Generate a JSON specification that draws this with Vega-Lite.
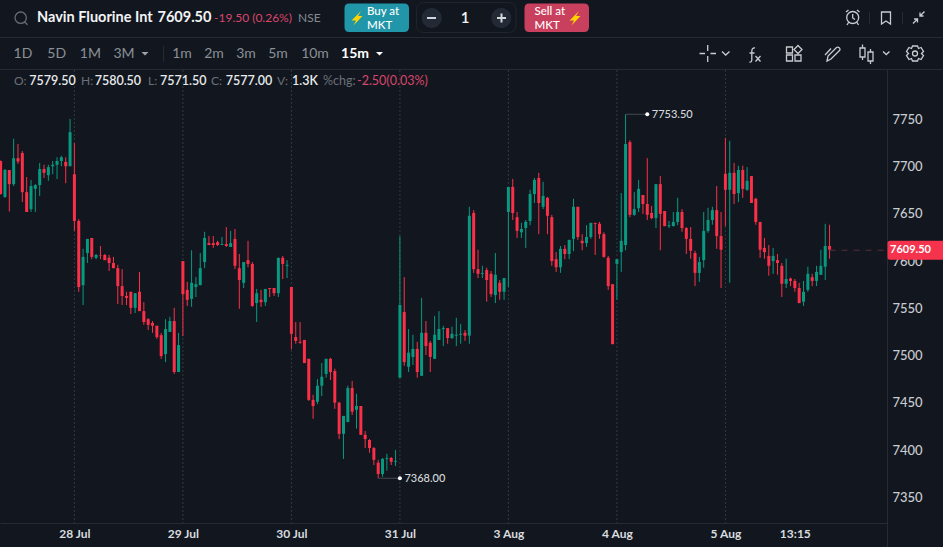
{"$schema":"https://vega.github.io/schema/vega-lite/v6.json","width":943,"height":547,"padding":0,"autosize":{"type":"none"},"background":"#12171f","config":{"view":{"stroke":null},"font":"Lato"},
"datasets":{
"days":[{"n":0},{"n":25},{"n":50},{"n":75},{"n":100},{"n":125},{"n":150}],
"extremes":[{"n":127,"n2":132,"p":7753.5,"label":"7753.50"},{"n":70,"n2":75,"p":7368,"label":"7368.00"}],
"last":[{"n":174,"edge":187.235,"p":7609.5,"label":"7609.50"}],
"candles":[
{"n":-17,"o":7704,"h":7704.5,"l":7668.5,"c":7669},{"n":-16,"o":7666,"h":7695.5,"l":7665,"c":7694.5},{"n":-15,"o":7694.5,"h":7694.5,"l":7650.5,"c":7679.5},{"n":-14,"o":7679.5,"h":7727.5,"l":7677.5,"c":7707},{"n":-13,"o":7707,"h":7722,"l":7701,"c":7703.5},{"n":-12,"o":7712.5,"h":7714.5,"l":7660.5,"c":7671},{"n":-11,"o":7671,"h":7687,"l":7650,"c":7650},{"n":-10,"o":7653,"h":7684,"l":7650,"c":7677.5},{"n":-9,"o":7674.5,"h":7679.5,"l":7650,"c":7678.5},{"n":-8,"o":7678.5,"h":7702,"l":7667,"c":7695.5},{"n":-7,"o":7695.5,"h":7700,"l":7686,"c":7691.5},{"n":-6,"o":7689,"h":7700,"l":7683,"c":7697.5},{"n":-5,"o":7698.5,"h":7704,"l":7690,"c":7700},{"n":-4,"o":7700,"h":7708,"l":7685,"c":7704},{"n":-3,"o":7704,"h":7709.5,"l":7698.5,"c":7708},{"n":-2,"o":7703,"h":7708,"l":7680.5,"c":7698.5},{"n":-1,"o":7698.5,"h":7748.5,"l":7698.5,"c":7734.5},
{"n":0,"o":7690,"h":7723,"l":7630,"c":7640.5},{"n":1,"o":7640.5,"h":7642.5,"l":7565.5,"c":7570.5},{"n":2,"o":7572.5,"h":7611,"l":7551.5,"c":7602.5},{"n":3,"o":7606.5,"h":7621.5,"l":7596,"c":7621.5},{"n":4,"o":7622.5,"h":7622.5,"l":7600,"c":7602.5},{"n":5,"o":7601.5,"h":7605.5,"l":7600,"c":7604.5},{"n":6,"o":7604.5,"h":7614,"l":7600,"c":7604},{"n":7,"o":7604.5,"h":7605.5,"l":7599,"c":7599},{"n":8,"o":7601.5,"h":7604.5,"l":7587.5,"c":7596},{"n":9,"o":7596,"h":7602.5,"l":7590.5,"c":7590.5},{"n":10,"o":7590.5,"h":7594,"l":7552.5,"c":7571.5},{"n":11,"o":7571.5,"h":7589.5,"l":7551.5,"c":7561},{"n":12,"o":7561,"h":7565.5,"l":7551.5,"c":7559},{"n":13,"o":7565.5,"h":7565.5,"l":7542,"c":7548.5},{"n":14,"o":7548.5,"h":7564,"l":7543,"c":7564},{"n":15,"o":7565.5,"h":7586.5,"l":7545,"c":7545},{"n":16,"o":7545,"h":7554.5,"l":7530.5,"c":7533.5},{"n":17,"o":7536.5,"h":7537.5,"l":7525,"c":7530.5},{"n":18,"o":7532.5,"h":7534.5,"l":7522,"c":7529.5},{"n":19,"o":7529.5,"h":7529.5,"l":7515.5,"c":7517.5},{"n":20,"o":7519.5,"h":7522,"l":7494.5,"c":7497.5},{"n":21,"o":7499.5,"h":7536.5,"l":7491,"c":7526},{"n":22,"o":7523,"h":7539,"l":7523,"c":7534.5},{"n":23,"o":7534.5,"h":7548.5,"l":7478.5,"c":7480.5},{"n":24,"o":7480.5,"h":7522,"l":7480.5,"c":7509},
{"n":25,"o":7598,"h":7598,"l":7518.5,"c":7563},{"n":26,"o":7567.5,"h":7576,"l":7550.5,"c":7557},{"n":27,"o":7558,"h":7609.5,"l":7549.5,"c":7575},{"n":28,"o":7570.5,"h":7581,"l":7560,"c":7573.5},{"n":29,"o":7572.5,"h":7606.5,"l":7572.5,"c":7590.5},{"n":30,"o":7597,"h":7629,"l":7590.5,"c":7622.5},{"n":31,"o":7617,"h":7624.5,"l":7615,"c":7615},{"n":32,"o":7617,"h":7624.5,"l":7612,"c":7615},{"n":33,"o":7618,"h":7619.5,"l":7614,"c":7615},{"n":34,"o":7615,"h":7623.5,"l":7615,"c":7616},{"n":35,"o":7616,"h":7634,"l":7613,"c":7614},{"n":36,"o":7613,"h":7630,"l":7613,"c":7617},{"n":37,"o":7621.5,"h":7632,"l":7589.5,"c":7593},{"n":38,"o":7590.5,"h":7605.5,"l":7547.5,"c":7578},{"n":39,"o":7575,"h":7597,"l":7569.5,"c":7597},{"n":40,"o":7599,"h":7619.5,"l":7591.5,"c":7595},{"n":41,"o":7595,"h":7597,"l":7549.5,"c":7550.5},{"n":42,"o":7553.5,"h":7568.5,"l":7533.5,"c":7564},{"n":43,"o":7557,"h":7567.5,"l":7549.5,"c":7554.5},{"n":44,"o":7554.5,"h":7568.5,"l":7550.5,"c":7568.5},{"n":45,"o":7569.5,"h":7569.5,"l":7560,"c":7568.5},{"n":46,"o":7569.5,"h":7569.5,"l":7561,"c":7564},{"n":47,"o":7564,"h":7601.5,"l":7560,"c":7601.5},{"n":48,"o":7601.5,"h":7603.5,"l":7579,"c":7595},{"n":49,"o":7593,"h":7599,"l":7580,"c":7594},
{"n":50,"o":7570.5,"h":7570.5,"l":7504.5,"c":7521},{"n":51,"o":7517.5,"h":7533.5,"l":7510.5,"c":7513.5},{"n":52,"o":7512.5,"h":7533.5,"l":7510.5,"c":7511.5},{"n":53,"o":7514.5,"h":7514.5,"l":7490,"c":7490},{"n":54,"o":7494.5,"h":7494.5,"l":7450,"c":7451},{"n":55,"o":7451,"h":7456.5,"l":7431,"c":7444.5},{"n":56,"o":7449,"h":7473,"l":7446.5,"c":7466},{"n":57,"o":7466,"h":7490,"l":7455,"c":7475.5},{"n":58,"o":7478.5,"h":7494.5,"l":7474.5,"c":7494.5},{"n":59,"o":7494.5,"h":7495.5,"l":7472,"c":7480.5},{"n":60,"o":7481.5,"h":7484,"l":7441.5,"c":7448},{"n":61,"o":7448,"h":7449,"l":7409.5,"c":7415},{"n":62,"o":7415,"h":7434,"l":7388.5,"c":7434},{"n":63,"o":7427.5,"h":7466,"l":7427.5,"c":7463.5},{"n":64,"o":7463.5,"h":7471,"l":7435,"c":7438.5},{"n":65,"o":7440.5,"h":7457.5,"l":7420.5,"c":7444.5},{"n":66,"o":7444.5,"h":7444.5,"l":7414,"c":7414},{"n":67,"o":7414,"h":7418,"l":7400,"c":7409.5},{"n":68,"o":7408.5,"h":7409.5,"l":7395,"c":7400},{"n":69,"o":7400,"h":7401,"l":7382,"c":7387.5},{"n":70,"o":7384.5,"h":7387.5,"l":7368,"c":7372.5},{"n":71,"o":7372.5,"h":7389.5,"l":7369.5,"c":7388.5},{"n":72,"o":7388.5,"h":7394,"l":7376,"c":7389.5},{"n":73,"o":7389.5,"h":7390.5,"l":7382,"c":7385.5},{"n":74,"o":7385.5,"h":7398,"l":7381,"c":7386.5},
{"n":75,"o":7474.5,"h":7624.5,"l":7474.5,"c":7551.5},{"n":76,"o":7544,"h":7581,"l":7487,"c":7491},{"n":77,"o":7486,"h":7526,"l":7480.5,"c":7501},{"n":78,"o":7496.5,"h":7520,"l":7488,"c":7505},{"n":79,"o":7505,"h":7512.5,"l":7474.5,"c":7480.5},{"n":80,"o":7476.5,"h":7559,"l":7476.5,"c":7522},{"n":81,"o":7522,"h":7534.5,"l":7498.5,"c":7508},{"n":82,"o":7511.5,"h":7513.5,"l":7480.5,"c":7496.5},{"n":83,"o":7494.5,"h":7540,"l":7494.5,"c":7520},{"n":84,"o":7514.5,"h":7545,"l":7514.5,"c":7526},{"n":85,"o":7526,"h":7529.5,"l":7508,"c":7527},{"n":86,"o":7527,"h":7527,"l":7510.5,"c":7516.5},{"n":87,"o":7516.5,"h":7528.5,"l":7515.5,"c":7521},{"n":88,"o":7519,"h":7538,"l":7508,"c":7520},{"n":89,"o":7520,"h":7531.5,"l":7510.5,"c":7521},{"n":90,"o":7522,"h":7525,"l":7513.5,"c":7519},{"n":91,"o":7519,"h":7655.5,"l":7510.5,"c":7646},{"n":92,"o":7649,"h":7652,"l":7585.5,"c":7589.5},{"n":93,"o":7589.5,"h":7610,"l":7580,"c":7584.5},{"n":94,"o":7584.5,"h":7593,"l":7580,"c":7585.5},{"n":95,"o":7588.5,"h":7591,"l":7555,"c":7578},{"n":96,"o":7584.5,"h":7587.5,"l":7560,"c":7563},{"n":97,"o":7562,"h":7606.5,"l":7553.5,"c":7583.5},{"n":98,"o":7575,"h":7578,"l":7557,"c":7565.5},{"n":99,"o":7565.5,"h":7580,"l":7557,"c":7580},
{"n":100,"o":7650,"h":7676.5,"l":7570.5,"c":7676.5},{"n":101,"o":7676.5,"h":7685,"l":7641.5,"c":7649},{"n":102,"o":7644.5,"h":7650,"l":7622.5,"c":7630},{"n":103,"o":7628.5,"h":7638.5,"l":7622.5,"c":7632},{"n":104,"o":7633,"h":7641.5,"l":7612,"c":7639.5},{"n":105,"o":7640.5,"h":7673.5,"l":7636,"c":7669},{"n":106,"o":7669,"h":7686,"l":7659.5,"c":7684},{"n":107,"o":7686,"h":7691.5,"l":7626.5,"c":7659.5},{"n":108,"o":7655.5,"h":7682,"l":7653,"c":7667},{"n":109,"o":7665,"h":7666,"l":7626.5,"c":7646},{"n":110,"o":7644.5,"h":7647,"l":7593,"c":7598},{"n":111,"o":7600,"h":7607.5,"l":7586.5,"c":7591.5},{"n":112,"o":7591.5,"h":7614,"l":7585.5,"c":7611},{"n":113,"o":7611,"h":7615,"l":7600,"c":7605.5},{"n":114,"o":7605.5,"h":7620.5,"l":7600,"c":7620.5},{"n":115,"o":7621.5,"h":7664,"l":7608.5,"c":7655.5},{"n":116,"o":7655.5,"h":7655.5,"l":7620.5,"c":7623.5},{"n":117,"o":7619.5,"h":7626.5,"l":7609.5,"c":7617},{"n":118,"o":7617,"h":7636,"l":7613,"c":7623.5},{"n":119,"o":7623.5,"h":7638.5,"l":7621.5,"c":7638.5},{"n":120,"o":7638.5,"h":7638.5,"l":7604.5,"c":7637.5},{"n":121,"o":7637.5,"h":7639.5,"l":7621.5,"c":7626.5},{"n":122,"o":7626.5,"h":7628.5,"l":7601.5,"c":7602.5},{"n":123,"o":7601.5,"h":7603.5,"l":7567.5,"c":7571.5},{"n":124,"o":7573.5,"h":7573.5,"l":7510,"c":7510},
{"n":125,"o":7595,"h":7600,"l":7557,"c":7600},{"n":126,"o":7607.5,"h":7670,"l":7586.5,"c":7619.5},{"n":127,"o":7615,"h":7753.5,"l":7609.5,"c":7722},{"n":128,"o":7724,"h":7726,"l":7644.5,"c":7647},{"n":129,"o":7647,"h":7671,"l":7646,"c":7653},{"n":130,"o":7654,"h":7684,"l":7650,"c":7674.5},{"n":131,"o":7668,"h":7668,"l":7648,"c":7658.5},{"n":132,"o":7658.5,"h":7707,"l":7641.5,"c":7647},{"n":133,"o":7649,"h":7656.5,"l":7642.5,"c":7643.5},{"n":134,"o":7643.5,"h":7679.5,"l":7633,"c":7679.5},{"n":135,"o":7679.5,"h":7688,"l":7609.5,"c":7648},{"n":136,"o":7651,"h":7651,"l":7635,"c":7635},{"n":137,"o":7635,"h":7640.5,"l":7633,"c":7636},{"n":138,"o":7635,"h":7650,"l":7635,"c":7639.5},{"n":139,"o":7639.5,"h":7665,"l":7636,"c":7650},{"n":140,"o":7650,"h":7653,"l":7629,"c":7633},{"n":141,"o":7633,"h":7634,"l":7605.5,"c":7621.5},{"n":142,"o":7621.5,"h":7634,"l":7600.5,"c":7609},{"n":143,"o":7606.5,"h":7609,"l":7571.5,"c":7585.5},{"n":144,"o":7585.5,"h":7602.5,"l":7576,"c":7597},{"n":145,"o":7599,"h":7650,"l":7591,"c":7630},{"n":146,"o":7630,"h":7654.5,"l":7628,"c":7641.5},{"n":147,"o":7641.5,"h":7655.5,"l":7636.5,"c":7652},{"n":148,"o":7652,"h":7677.5,"l":7611,"c":7624.5},{"n":149,"o":7624.5,"h":7650,"l":7569.5,"c":7610},
{"n":150,"o":7690.5,"h":7728.5,"l":7635,"c":7673.5},{"n":151,"o":7673.5,"h":7725.5,"l":7575,"c":7691.5},{"n":152,"o":7691.5,"h":7702,"l":7658.5,"c":7669},{"n":153,"o":7670,"h":7699,"l":7660.5,"c":7694.5},{"n":154,"o":7694.5,"h":7699,"l":7665,"c":7674.5},{"n":155,"o":7673.5,"h":7697.5,"l":7672.5,"c":7683},{"n":156,"o":7688,"h":7688,"l":7659.5,"c":7659.5},{"n":157,"o":7664,"h":7665,"l":7636.5,"c":7639.5},{"n":158,"o":7639.5,"h":7639.5,"l":7601.5,"c":7610},{"n":159,"o":7612,"h":7622.5,"l":7600.5,"c":7607.5},{"n":160,"o":7603.5,"h":7615,"l":7582.5,"c":7593},{"n":161,"o":7598,"h":7612,"l":7584.5,"c":7603.5},{"n":162,"o":7599,"h":7605.5,"l":7583.5,"c":7596},{"n":163,"o":7593,"h":7596,"l":7560,"c":7574},{"n":164,"o":7574,"h":7600.5,"l":7569.5,"c":7579},{"n":165,"o":7579.5,"h":7580.5,"l":7571.5,"c":7577},{"n":166,"o":7577,"h":7579,"l":7565.5,"c":7569.5},{"n":167,"o":7569.5,"h":7575,"l":7553.5,"c":7553.5},{"n":168,"o":7555,"h":7577,"l":7550.5,"c":7565.5},{"n":169,"o":7567.5,"h":7592,"l":7565.5,"c":7584.5},{"n":170,"o":7581,"h":7584.5,"l":7571.5,"c":7577},{"n":171,"o":7577,"h":7593,"l":7571.5,"c":7586.5},{"n":172,"o":7583.5,"h":7610,"l":7583.5,"c":7593},{"n":173,"o":7592,"h":7637.5,"l":7578,"c":7614},{"n":174,"o":7614,"h":7636.5,"l":7600.5,"c":7610}
]},
"layer":[
{"data":{"values":[{"part":"rules","at":"o"},{"part":"frame","at":"o"}]},"mark":{"type":"point","filled":false,"size":4,"opacity":1,"strokeWidth":1},
"encoding":{"x":{"field":"at","type":"nominal","scale":{"type":"point","domain":["o"],"range":[0,0],"padding":0},"axis":null},"y":{"field":"at","type":"nominal","scale":{"type":"point","domain":["o"],"range":[0,0],"padding":0},"axis":null},
"stroke":{"field":"part","type":"nominal","scale":{"domain":["rules","frame"],"range":["#262b33","#20252d"]},"legend":null},
"shape":{"field":"part","type":"nominal","scale":{"domain":["rules","frame"],"range":["M0 37.5H943M0 69.5H943M163.5 46V62M869.5 12V24M902.5 12V24M887.5 69.5V547","M424 2.5H508Q516 2.5 516 10.5V24.5Q516 32.5 508 32.5H424Q416.5 32.5 416.5 24.5V10.5Q416.5 2.5 424 2.5Z"]},"legend":null}}},
{"data":{"values":[{"n":0}]},"mark":{"type":"rule","opacity":0},
"encoding":{"x":{"field":"n","type":"quantitative","scale":{"domain":[-17.143,187.235],"range":[0,887],"nice":false,"zero":false},
"axis":{"orient":"bottom","offset":-24,"values":[0,25,50,75,100,125,150,166],"labelExpr":"{'0':'28 Jul','25':'29 Jul','50':'30 Jul','75':'31 Jul','100':'3 Aug','125':'4 Aug','150':'5 Aug','166':'13:15'}[datum.value]","grid":false,"ticks":false,"domainColor":"#262b33","labelColor":"#d8dbdf","labelFont":"Lato","labelFontSize":12,"labelFontWeight":700,"labelPadding":5,"labelOverlap":false,"title":null}},
"y":{"datum":7500,"type":"quantitative","scale":{"domain":[7320.6,7800.4],"range":[523,70],"nice":false,"zero":false},
"axis":{"orient":"right","offset":-56,"values":[7350,7400,7450,7500,7550,7600,7650,7700,7750],"format":"d","grid":false,"ticks":false,"domain":false,"labelColor":"#c9ccd1","labelFont":"Lato","labelFontSize":13,"labelFontWeight":500,"labelPadding":5,"labelOffset":2,"labelOverlap":false,"title":null}}}},
{"data":{"name":"days"},"mark":{"type":"rule","color":"#33383f","strokeDash":[2,2],"strokeWidth":1},
"encoding":{"x":{"field":"n","type":"quantitative","scale":{"domain":[-17.143,187.235],"range":[0,887],"nice":false,"zero":false},"axis":null},"y":{"datum":7800.4,"type":"quantitative","scale":{"domain":[7320.6,7800.4],"range":[523,70],"nice":false,"zero":false},"axis":null},"y2":{"datum":7320.6}}},
{"data":{"name":"candles"},"mark":{"type":"rule","strokeWidth":1},
"encoding":{"x":{"field":"n","type":"quantitative","scale":{"domain":[-17.143,187.235],"range":[0,887],"nice":false,"zero":false},"axis":null},"y":{"field":"h","type":"quantitative","scale":{"domain":[7320.6,7800.4],"range":[523,70],"nice":false,"zero":false},"axis":null},"y2":{"field":"l"},"color":{"condition":{"test":"datum.c>=datum.o","value":"#089981"},"value":"#fb3048"}}},
{"data":{"name":"candles"},"mark":{"type":"bar","size":3},
"encoding":{"x":{"field":"n","type":"quantitative","scale":{"domain":[-17.143,187.235],"range":[0,887],"nice":false,"zero":false,"padding":0},"axis":null},"y":{"field":"o","type":"quantitative","scale":{"domain":[7320.6,7800.4],"range":[523,70],"nice":false,"zero":false},"axis":null},"y2":{"field":"c"},"color":{"condition":{"test":"datum.c>=datum.o","value":"#089981"},"value":"#fb3048"}}},
{"data":{"name":"extremes"},"mark":{"type":"rule","color":"#454a50","strokeWidth":1},
"encoding":{"x":{"field":"n","type":"quantitative","scale":{"domain":[-17.143,187.235],"range":[0,887],"nice":false,"zero":false},"axis":null},"x2":{"field":"n2"},"y":{"field":"p","type":"quantitative","scale":{"domain":[7320.6,7800.4],"range":[523,70],"nice":false,"zero":false},"axis":null}}},
{"data":{"name":"extremes"},"mark":{"type":"point","filled":true,"color":"#ffffff","opacity":1,"size":16},
"encoding":{"x":{"field":"n2","type":"quantitative","scale":{"domain":[-17.143,187.235],"range":[0,887],"nice":false,"zero":false},"axis":null},"y":{"field":"p","type":"quantitative","scale":{"domain":[7320.6,7800.4],"range":[523,70],"nice":false,"zero":false},"axis":null}}},
{"data":{"name":"extremes"},"mark":{"type":"text","align":"left","dx":4.5,"dy":1,"color":"#d6d9dd","fontSize":11,"font":"Lato","fontWeight":500},
"encoding":{"x":{"field":"n2","type":"quantitative","scale":{"domain":[-17.143,187.235],"range":[0,887],"nice":false,"zero":false},"axis":null},"y":{"field":"p","type":"quantitative","scale":{"domain":[7320.6,7800.4],"range":[523,70],"nice":false,"zero":false},"axis":null},"text":{"field":"label"}}},
{"data":{"name":"last"},"mark":{"type":"rule","color":"#5c2a3a","strokeDash":[6,6],"strokeWidth":1},
"encoding":{"x":{"field":"n","type":"quantitative","scale":{"domain":[-17.143,187.235],"range":[0,887],"nice":false,"zero":false},"axis":null},"x2":{"field":"edge"},"y":{"field":"p","type":"quantitative","scale":{"domain":[7320.6,7800.4],"range":[523,70],"nice":false,"zero":false},"axis":null}}},
{"data":{"name":"last"},"mark":{"type":"point","filled":true,"opacity":1,"size":4,"color":"#f5334d","shape":"M3 -9.5H56V9.5H3Q0.5 9.5 0.5 7V-7Q0.5 -9.5 3 -9.5Z"},
"encoding":{"x":{"field":"edge","type":"quantitative","scale":{"domain":[-17.143,187.235],"range":[0,887],"nice":false,"zero":false},"axis":null},"y":{"field":"p","type":"quantitative","scale":{"domain":[7320.6,7800.4],"range":[523,70],"nice":false,"zero":false},"axis":null}}},
{"data":{"name":"last"},"mark":{"type":"text","align":"left","dx":3,"color":"#ffffff","fontSize":11,"font":"Lato","fontWeight":700},
"encoding":{"x":{"field":"edge","type":"quantitative","scale":{"domain":[-17.143,187.235],"range":[0,887],"nice":false,"zero":false},"axis":null},"y":{"field":"p","type":"quantitative","scale":{"domain":[7320.6,7800.4],"range":[523,70],"nice":false,"zero":false},"axis":null},"text":{"field":"label"}}},
{"data":{"values":[{"part":"buy","at":"o"},{"part":"sell","at":"o"},{"part":"bolts","at":"o"},{"part":"circles","at":"o"},{"part":"signs","at":"o"},{"part":"grey caret","at":"o"},{"part":"white caret","at":"o"}]},"mark":{"type":"point","filled":true,"size":4,"opacity":1},
"encoding":{"x":{"field":"at","type":"nominal","scale":{"type":"point","domain":["o"],"range":[0,0],"padding":0},"axis":null},"y":{"field":"at","type":"nominal","scale":{"type":"point","domain":["o"],"range":[0,0],"padding":0},"axis":null},
"fill":{"field":"part","type":"nominal","scale":{"domain":["buy","sell","bolts","circles","signs","grey caret","white caret"],"range":["#2096a8","#c93f5e","#ffd400","#232a36","#d3d6da","#a0a4aa","#ffffff"]},"legend":null},
"shape":{"field":"part","type":"nominal","scale":{"domain":["buy","sell","bolts","circles","signs","grey caret","white caret"],"range":["M349 3.5H404Q409 3.5 409 8.5V27Q409 32 404 32H349Q344.5 32 344.5 27V8.5Q344.5 3.5 349 3.5Z","M529 3.5H584Q589 3.5 589 8.5V27Q589 32 584 32H529Q524.5 32 524.5 27V8.5Q524.5 3.5 529 3.5Z","M361 11L351.5 20.5H356L353.5 25.5L362.5 16H358ZM579 11L569.5 20.5H574L571.5 25.5L580.5 16H576Z","M421.7 18a10 10 0 1 0 20 0a10 10 0 1 0 -20 0ZM491.3 18a10 10 0 1 0 20 0a10 10 0 1 0 -20 0Z","M427 17H436V19H427ZM497 17H506V19H497ZM500.5 13.5H502.5V22.5H500.5Z","M141.5 52H148.5L145 55.5Z","M376 52H383L379.5 55.5Z"]},"legend":null}}},
{"data":{"values":[{"part":"search","at":"o"},{"part":"icons","at":"o"}]},"mark":{"type":"point","filled":false,"size":4,"opacity":1,"strokeWidth":1.3},
"encoding":{"x":{"field":"at","type":"nominal","scale":{"type":"point","domain":["o"],"range":[0,0],"padding":0},"axis":null},"y":{"field":"at","type":"nominal","scale":{"type":"point","domain":["o"],"range":[0,0],"padding":0},"axis":null},
"stroke":{"field":"part","type":"nominal","scale":{"domain":["search","icons"],"range":["#666c74","#c8cbd0"]},"legend":null},
"shape":{"field":"part","type":"nominal","scale":{"domain":["search","icons"],"range":["M15 17.7a5.7 5.7 0 1 0 11.4 0a5.7 5.7 0 1 0 -11.4 0ZM24.7 22L27.5 24.8","M846.7 17.5a6 6 0 1 0 12 0a6 6 0 1 0 -12 0ZM852.7 14V18L855 19.5M846 12L848.5 10M859.5 12L857 10M848.5 22.5L847 25M857 22.5L858.5 25M881.5 12H890.5V24L886 21L881.5 24ZM924.5 11.5L920 16M920 12.5V16H923.5M913 23.5L917.5 19M914 19H917.5V22.5M699.5 53.5H705M710.5 53.5H716M707.7 45V51M707.7 56V62M722 51.5L725.7 55L729.5 51.5M755 48Q752 47.5 751.8 51V60Q751.5 62.5 749.5 62M749.5 53H754.5M755.5 56L760.5 61.5M760.5 56L755.5 61.5M786.5 47H792.5V53H786.5ZM786.5 55H792.5V61H786.5ZM795 55H801V61H795ZM798 45.5L802 49.5L798 53.5L794 49.5ZM827 61L828 56L836.5 47.5Q838 46.5 839.5 48Q840.5 49.5 839.5 50.5L831 59ZM825 55L831 48.5M860 48H865V57H860ZM862.5 44.5V48M862.5 57V60M868 52H873V61H868ZM870.5 49V52M870.5 61V64M883 51.5L886.3 54.5L889.5 51.5M912.5 46H917.5L918.5 48.5L921 47.5L923.5 51.5L921.5 53.5L923.5 55.5L921 59.5L918.5 58.5L917.5 61H912.5L911.5 58.5L909 59.5L906.5 55.5L908.5 53.5L906.5 51.5L909 47.5L911.5 48.5ZM912.5 53.5a2.5 2.5 0 1 0 5 0a2.5 2.5 0 1 0 -5 0Z"]},"legend":null}}},
{"data":{"values":[{"label":"Navin Fluorine Int","row":"a"},{"label":"7609.50","row":"a"}]},"mark":{"type":"text","align":"left","color":"#f2f3f5","fontSize":14.5,"font":"Lato","fontWeight":700},
"encoding":{"x":{"field":"label","type":"nominal","sort":null,"scale":{"type":"point","domain":["Navin Fluorine Int","7609.50"],"range":[37,157.5],"padding":0},"axis":null},"y":{"field":"row","type":"nominal","scale":{"type":"point","domain":["a"],"range":[18,18],"padding":0},"axis":null},"text":{"field":"label"}}},
{"data":{"values":[{"label":"-19.50 (0.26%)","row":"a"},{"label":"NSE","row":"a"}]},"mark":{"type":"text","align":"left","fontSize":12,"font":"Lato"},
"encoding":{"x":{"field":"label","type":"nominal","scale":{"type":"point","domain":["-19.50 (0.26%)","NSE"],"range":[214,298],"padding":0},"axis":null},"y":{"field":"row","type":"nominal","scale":{"type":"point","domain":["a"],"range":[18,18],"padding":0},"axis":null},"text":{"field":"label"},"color":{"field":"label","type":"nominal","scale":{"domain":["-19.50 (0.26%)","NSE"],"range":["#d9456b","#858a91"]},"legend":null}}},
{"data":{"values":[{"button":"buy","line":"first","label":"Buy at"},{"button":"buy","line":"second","label":"MKT"},{"button":"sell","line":"first","label":"Sell at"},{"button":"sell","line":"second","label":"MKT"}]},"mark":{"type":"text","align":"left","color":"#ffffff","fontSize":11.5,"font":"Lato","fontWeight":500},
"encoding":{"x":{"field":"button","type":"nominal","scale":{"type":"point","domain":["buy","sell"],"range":[367,534.5],"padding":0},"axis":null},"y":{"field":"line","type":"nominal","scale":{"type":"point","domain":["first","second"],"range":[11.5,25.5],"padding":0},"axis":null},"text":{"field":"label"}}},
{"data":{"values":[{"label":"1","row":"a"}]},"mark":{"type":"text","color":"#f2f3f5","fontSize":15,"font":"Lato","fontWeight":600},
"encoding":{"x":{"field":"label","type":"nominal","scale":{"type":"point","domain":["1"],"range":[465,465],"padding":0},"axis":null},"y":{"field":"row","type":"nominal","scale":{"type":"point","domain":["a"],"range":[18,18],"padding":0},"axis":null},"text":{"field":"label"}}},
{"data":{"values":[{"label":"1D","row":"b"},{"label":"5D","row":"b"},{"label":"1M","row":"b"},{"label":"3M","row":"b"}]},"mark":{"type":"text","color":"#8b9097","fontSize":14,"font":"Lato"},
"encoding":{"x":{"field":"label","type":"nominal","scale":{"type":"point","domain":["1D","5D","1M","3M"],"range":[23,124],"padding":0},"axis":null},"y":{"field":"row","type":"nominal","scale":{"type":"point","domain":["b"],"range":[54,54],"padding":0},"axis":null},"text":{"field":"label"}}},
{"data":{"values":[{"label":"1m","row":"b"},{"label":"2m","row":"b"},{"label":"3m","row":"b"},{"label":"5m","row":"b"}]},"mark":{"type":"text","color":"#8b9097","fontSize":14,"font":"Lato"},
"encoding":{"x":{"field":"label","type":"nominal","scale":{"type":"point","domain":["1m","2m","3m","5m"],"range":[182,278],"padding":0},"axis":null},"y":{"field":"row","type":"nominal","scale":{"type":"point","domain":["b"],"range":[54,54],"padding":0},"axis":null},"text":{"field":"label"}}},
{"data":{"values":[{"label":"10m","row":"b"}]},"mark":{"type":"text","color":"#8b9097","fontSize":14,"font":"Lato"},
"encoding":{"x":{"field":"label","type":"nominal","scale":{"type":"point","domain":["10m"],"range":[315,315],"padding":0},"axis":null},"y":{"field":"row","type":"nominal","scale":{"type":"point","domain":["b"],"range":[54,54],"padding":0},"axis":null},"text":{"field":"label"}}},
{"data":{"values":[{"label":"15m","row":"b"}]},"mark":{"type":"text","color":"#ffffff","fontSize":14,"font":"Lato","fontWeight":700},
"encoding":{"x":{"field":"label","type":"nominal","scale":{"type":"point","domain":["15m"],"range":[355,355],"padding":0},"axis":null},"y":{"field":"row","type":"nominal","scale":{"type":"point","domain":["b"],"range":[54,54],"padding":0},"axis":null},"text":{"field":"label"}}},
{"data":{"values":[{"label":"O:","row":"c"},{"label":"H:","row":"c"},{"label":"L:","row":"c"}]},"mark":{"type":"text","align":"left","color":"#6b7077","fontSize":12,"font":"Lato"},
"encoding":{"x":{"field":"label","type":"nominal","scale":{"type":"point","domain":["O:","H:","L:"],"range":[14,148],"padding":0},"axis":null},"y":{"field":"row","type":"nominal","scale":{"type":"point","domain":["c"],"range":[81,81],"padding":0},"axis":null},"text":{"field":"label"}}},
{"data":{"values":[{"label":"C:","row":"c"},{"label":"V:","row":"c"}]},"mark":{"type":"text","align":"left","color":"#6b7077","fontSize":12,"font":"Lato"},
"encoding":{"x":{"field":"label","type":"nominal","scale":{"type":"point","domain":["C:","V:"],"range":[211,277],"padding":0},"axis":null},"y":{"field":"row","type":"nominal","scale":{"type":"point","domain":["c"],"range":[81,81],"padding":0},"axis":null},"text":{"field":"label"}}},
{"data":{"values":[{"label":"7579.50","row":"c"},{"label":"7580.50","row":"c"},{"label":"7571.50","row":"c"}]},"mark":{"type":"text","align":"left","color":"#e8eaec","fontSize":12.5,"font":"Lato","fontWeight":600},
"encoding":{"x":{"field":"label","type":"nominal","scale":{"type":"point","domain":["7579.50","7580.50","7571.50"],"range":[29.3,160],"padding":0},"axis":null},"y":{"field":"row","type":"nominal","scale":{"type":"point","domain":["c"],"range":[81,81],"padding":0},"axis":null},"text":{"field":"label"}}},
{"data":{"values":[{"label":"7577.00","row":"c"},{"label":"1.3K","row":"c"}]},"mark":{"type":"text","align":"left","color":"#e8eaec","fontSize":12.5,"font":"Lato","fontWeight":600},
"encoding":{"x":{"field":"label","type":"nominal","scale":{"type":"point","domain":["7577.00","1.3K"],"range":[225.7,292],"padding":0},"axis":null},"y":{"field":"row","type":"nominal","scale":{"type":"point","domain":["c"],"range":[81,81],"padding":0},"axis":null},"text":{"field":"label"}}},
{"data":{"values":[{"label":"%chg:","row":"c"},{"label":"-2.50(0.03%)","row":"c"}]},"mark":{"type":"text","align":"left","fontSize":12.5,"font":"Lato"},
"encoding":{"x":{"field":"label","type":"nominal","scale":{"type":"point","domain":["%chg:","-2.50(0.03%)"],"range":[323,357],"padding":0},"axis":null},"y":{"field":"row","type":"nominal","scale":{"type":"point","domain":["c"],"range":[81,81],"padding":0},"axis":null},"text":{"field":"label"},"color":{"field":"label","type":"nominal","scale":{"domain":["%chg:","-2.50(0.03%)"],"range":["#6b7077","#d9456b"]},"legend":null}}}
],
"resolve":{"scale":{"x":"independent","y":"independent","color":"independent","stroke":"independent","fill":"independent","shape":"independent"},"axis":{"x":"independent","y":"independent"}}}
